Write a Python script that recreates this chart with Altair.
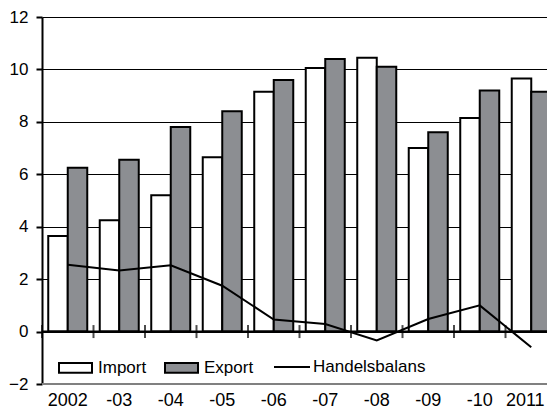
import altair as alt
import pandas as pd

years = ["2002", "-03", "-04", "-05", "-06", "-07", "-08", "-09", "-10", "2011"]
imports = [3.65, 4.25, 5.2, 6.65, 9.15, 10.05, 10.45, 7.0, 8.15, 9.65]
exports = [6.25, 6.55, 7.8, 8.4, 9.6, 10.4, 10.1, 7.6, 9.2, 9.15]
balance = [2.55, 2.33, 2.53, 1.75, 0.46, 0.29, -0.34, 0.48, 1.0, -0.6]
series = ["Import", "Export"]

rows = []
for i, y in enumerate(years):
    rows.append({"year": y, "series": "Import", "value": imports[i]})
    rows.append({"year": y, "series": "Export", "value": exports[i]})
bars_df = pd.DataFrame(rows)
line_df = pd.DataFrame({"year": years, "value": balance, "name": ["Handelsbalans"] * len(years)})
tick_df = pd.DataFrame({"year": years, "z": [0] * len(years)})
zero_df = pd.DataFrame({"z": [0]})
floor_df = pd.DataFrame({"z": [-2]})

FONT = "Liberation Sans"
ydom = [-2, 12]

xscale = alt.Scale(paddingInner=0, paddingOuter=0, range=[0, 515])
yscale = alt.Scale(domain=ydom, nice=False, zero=False)

def yaxis():
    return alt.Axis(
        values=[-2, 0, 2, 4, 6, 8, 10, 12],
        title=None,
        domainColor="black",
        domainWidth=2,
        tickColor="black",
        tickWidth=2,
        tickSize=6,
        labelFontSize=17,
        labelColor="black",
        labelPadding=8,
        labelFont=FONT,
        gridColor="black",
        gridWidth=1,
    )

def xaxis():
    return alt.Axis(orient="bottom", title=None, domain=False, ticks=False,
                    tickSize=0, labelAngle=0, labelFontSize=18,
                    labelColor="black", labelPadding=7, labelFont=FONT, grid=False,
                    labelOffset={"condition": {"test": "datum.value === '2011'", "value": -6},
                                 "value": 0})

bars = alt.Chart(bars_df).mark_bar(stroke="black", strokeWidth=2).encode(
    x=alt.X("year:N", sort=years, scale=xscale, axis=xaxis()),
    xOffset=alt.XOffset("series:N", sort=series,
                        scale=alt.Scale(paddingInner=0, paddingOuter=0.32)),
    y=alt.Y("value:Q", scale=yscale, axis=yaxis()),
    fill=alt.Fill("series:N", sort=series,
                  scale=alt.Scale(domain=series, range=["white", "#8c8e92"]),
                  legend=alt.Legend(orient="none", legendX=16, legendY=333,
                                    direction="horizontal", title=None,
                                    symbolType="M-1,-0.29H1V0.29H-1Z", symbolSize=1089,
                                    symbolStrokeColor="black", symbolStrokeWidth=2,
                                    labelFontSize=17, labelFont=FONT, labelColor="black",
                                    labelOffset=5, columnPadding=14)),
)

line = alt.Chart(line_df).mark_line(color="black", strokeWidth=2).encode(
    x=alt.X("year:N", sort=years, scale=xscale, axis=xaxis()),
    y=alt.Y("value:Q", scale=yscale, axis=yaxis()),
    stroke=alt.Stroke("name:N",
                      scale=alt.Scale(domain=["Handelsbalans"], range=["black"]),
                      legend=alt.Legend(orient="none", legendX=231, legendY=331,
                                        direction="horizontal", title=None,
                                        symbolType="stroke", symbolSize=1296,
                                        symbolStrokeWidth=2,
                                        labelFontSize=17, labelFont=FONT, labelColor="black",
                                        labelOffset=2)),
)

ticks = alt.Chart(tick_df).mark_tick(orient="vertical", size=13, thickness=2, color="black").encode(
    x=alt.X("year:N", sort=years, scale=xscale, axis=xaxis(), bandPosition=0),
    y=alt.Y("z:Q", scale=yscale, axis=yaxis()),
)

zero = alt.Chart(zero_df).mark_rule(color="black", strokeWidth=2).encode(
    y=alt.Y("z:Q", scale=yscale, axis=yaxis())
)

floor = alt.Chart(floor_df).mark_rule(color="#808080", strokeWidth=2).encode(
    y=alt.Y("z:Q", scale=yscale, axis=yaxis())
)

chart = alt.layer(bars, floor, zero, ticks, line).properties(
    width=505,
    height=367,
    autosize=alt.AutoSizeParams(type="none"),
    padding={"left": 34, "top": 9, "right": 0, "bottom": 28},
    background="white",
).configure_view(stroke=None)

chart.save("out.html", embed_options={"renderer": "svg", "actions": False})
